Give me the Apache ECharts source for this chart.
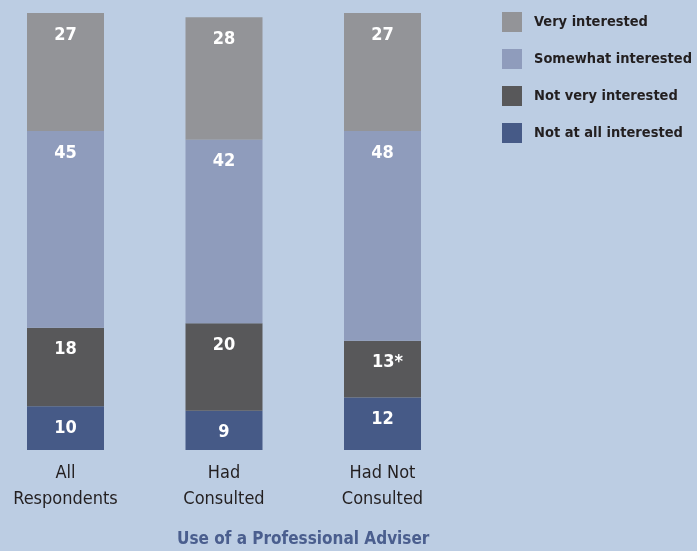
<!DOCTYPE html>
<html>
<head>
<meta charset="utf-8">
<script src="https://cdn.jsdelivr.net/npm/echarts@6/dist/echarts.min.js"></script>
<style>
  html, body { margin: 0; padding: 0; background: #bccde3; }
  #chart { width: 697px; height: 551px; }
</style>
</head>
<body>
<div id="chart"></div>
<script>
// Interest levels by use of a professional adviser (percent)
const categories = ['All\nRespondents', 'Had\nConsulted', 'Had Not\nConsulted'];
const seriesNames = ['Very interested', 'Somewhat interested', 'Not very interested', 'Not at all interested'];
const veryInterested = [27, 28, 27];
const somewhatInterested = [45, 42, 48];
const notVeryInterested = [18, 20, 13];
const notAtAllInterested = [10, 9, 12];
const labelSuffix = { 'Not very interested': ['', '', '*'] };
const xAxisTitle = 'Use of a Professional Adviser';

const colors = {
  'Very interested': '#939498',
  'Somewhat interested': '#8f9cbc',
  'Not very interested': '#58585a',
  'Not at all interested': '#465a87'
};

const narrow = '"DejaVu Sans Condensed", "Liberation Sans Narrow", "Liberation Sans", sans-serif';

// stack bottom-up: not at all, not very, somewhat, very
const stackOrder = [
  ['Not at all interested', notAtAllInterested],
  ['Not very interested', notVeryInterested],
  ['Somewhat interested', somewhatInterested],
  ['Very interested', veryInterested]
];

const series = stackOrder.map(([name, values]) => {
  const suffixes = labelSuffix[name] || [];
  return {
    name: name,
    type: 'bar',
    stack: 'total',
    barWidth: 77,
    // a footnote marker shifts its label so the number itself stays centred
    data: values.map((v, i) => suffixes[i]
      ? { value: v, label: { offset: [5, 0] } }
      : v),
    itemStyle: { color: colors[name] },
    label: {
      show: true,
      position: 'insideTop',
      distance: 13,
      color: '#ffffff',
      fontFamily: narrow,
      fontWeight: 'bold',
      fontSize: 18,
      formatter: p => p.value + (suffixes[p.dataIndex] || '')
    },
    emphasis: { disabled: true }
  };
});

const chart = echarts.init(document.getElementById('chart'), null, { renderer: 'canvas' });
chart.setOption({
  backgroundColor: '#bccde3',
  animation: false,
  title: {
    text: xAxisTitle,
    left: 177,
    top: 531,
    padding: 0,
    textStyle: {
      color: '#4a5e8e',
      fontFamily: narrow,
      fontWeight: 'bold',
      fontSize: 17
    }
  },
  legend: {
    data: seriesNames,
    orient: 'vertical',
    left: 502,
    top: 12,
    padding: 0,
    itemWidth: 20,
    itemHeight: 20,
    itemGap: 17,
    icon: 'rect',
    selectedMode: false,
    textStyle: {
      color: '#231f20',
      fontFamily: narrow,
      fontWeight: 'bold',
      fontSize: 14.5,
      padding: [2, 0, 0, 7]
    }
  },
  grid: {
    left: -13.75, top: 13, width: 475.5, bottom: 101,
    containLabel: false,
    outerBoundsMode: 'none'
  },
  xAxis: {
    type: 'category',
    data: categories,
    axisLine: { show: false },
    axisTick: { show: false },
    axisLabel: {
      color: '#231f20',
      fontFamily: narrow,
      fontSize: 18,
      lineHeight: 26,
      margin: 10
    }
  },
  yAxis: {
    type: 'value',
    min: 0,
    max: 100,
    show: false
  },
  series: series
});
</script>
</body>
</html>
